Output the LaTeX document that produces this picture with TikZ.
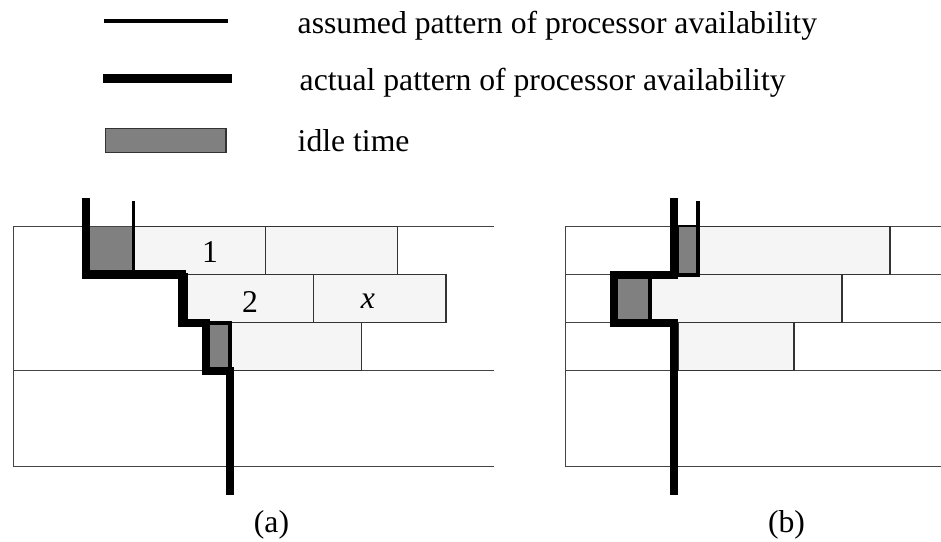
\documentclass[tikz,border=0pt]{standalone}
\usepackage{fontspec}
\setmainfont{Liberation Serif}
\definecolor{framegray}{HTML}{444444}
\definecolor{boxgray}{HTML}{333333}
\definecolor{taskfill}{HTML}{F5F5F5}
\definecolor{idlegray}{HTML}{808080}
\begin{document}
\begin{tikzpicture}[x=1pt,y=-1pt,
  frame/.style={draw=framegray,line width=1.3pt},
  task/.style={fill=taskfill,draw=boxgray,line width=1.3pt},
  idle/.style={fill=idlegray},
  assumed/.style={draw=black,line width=3.6pt,line join=miter},
  actual/.style={draw=black,line width=8.5pt,line join=miter},
  lbl/.style={font=\fontsize{31.7}{38}\selectfont,inner sep=0pt}]
\useasboundingbox (0,0) rectangle (941,541);

% ---------- legend ----------
\draw[assumed] (104,20.7) -- (227.7,20.7);
\draw[actual] (103.3,78.7) -- (232.3,78.7);
\draw[fill=idlegray,draw=boxgray,line width=1.5pt] (105.7,128.3) rectangle (226,152.7);
\node[lbl,anchor=base west] (lassumed) at (297.5,33) {assumed pattern of processor availability};
\node[lbl,anchor=base west] (lactual) at (299.5,90.5) {actual pattern of processor availability};
\node[lbl,anchor=base west] (lidle) at (297.5,151.5) {idle time};

% ---------- panel (a) ----------
\draw[frame] (494,226.7) -- (13.3,226.7) -- (13.3,466.7) -- (494,466.7);
\draw[frame] (13.3,370.7) -- (494,370.7);
% row 1
\fill[idle] (90,226.7) rectangle (133.3,274.3);
\draw[task] (133.3,226.7) rectangle (265.7,274.3);
\draw[task] (265.7,226.7) rectangle (397.7,274.3);
% row 2
\draw[task] (186,274.3) rectangle (313.3,322.7);
\draw[task] (313.3,274.3) rectangle (446,322.7);
% row 3
\fill[idle] (206,322.7) rectangle (230,370.7);
\draw[task] (230,322.7) rectangle (361.7,370.7);
% assumed and actual patterns
\draw[assumed] (133.3,201) -- (133.3,274.3) -- (186,274.3) -- (186,322.7) -- (230,322.7) -- (230,495);
\draw[actual] (85.8,198.3) -- (85.8,274.5) -- (181.8,274.5) -- (181.8,323) -- (206,323) -- (206,371) -- (230,371) -- (230,495);
\node[lbl] (t1) at (210,251.7) {1};
\node[lbl] (t2) at (250,301.7) {2};
\node[lbl] (tx) at (368,301.5) {\textit{x}};
\node[lbl,anchor=base] (capa) at (271.5,532) {(a)};

% ---------- panel (b) ----------
\draw[frame] (941,226.7) -- (565.7,226.7) -- (565.7,466.7) -- (941,466.7);
\draw[frame] (565.7,274.7) -- (941,274.7);
\draw[frame] (565.7,322.7) -- (941,322.7);
\draw[frame] (565.7,370.7) -- (941,370.7);
% row 1
\draw[idle,draw=black,line width=2pt] (678.3,226) rectangle (697.7,274.7);
\draw[task] (697.7,226.7) rectangle (890,274.7);
% row 2
\fill[idle] (614,274.7) rectangle (650,322.7);
\draw[task] (650,274.7) rectangle (842,322.7);
% row 3
\draw[task] (678.3,322.7) rectangle (794,370.7);
% assumed and actual patterns
\draw[assumed] (697.7,201) -- (697.7,275) -- (650,275) -- (650,323) -- (678.3,323);
\draw[actual] (673.8,198.3) -- (673.8,275) -- (614,275) -- (614,323) -- (673.8,323) -- (673.8,495);
\node[lbl,anchor=base] (capb) at (786.5,532) {(b)};
\end{tikzpicture}
\end{document}
